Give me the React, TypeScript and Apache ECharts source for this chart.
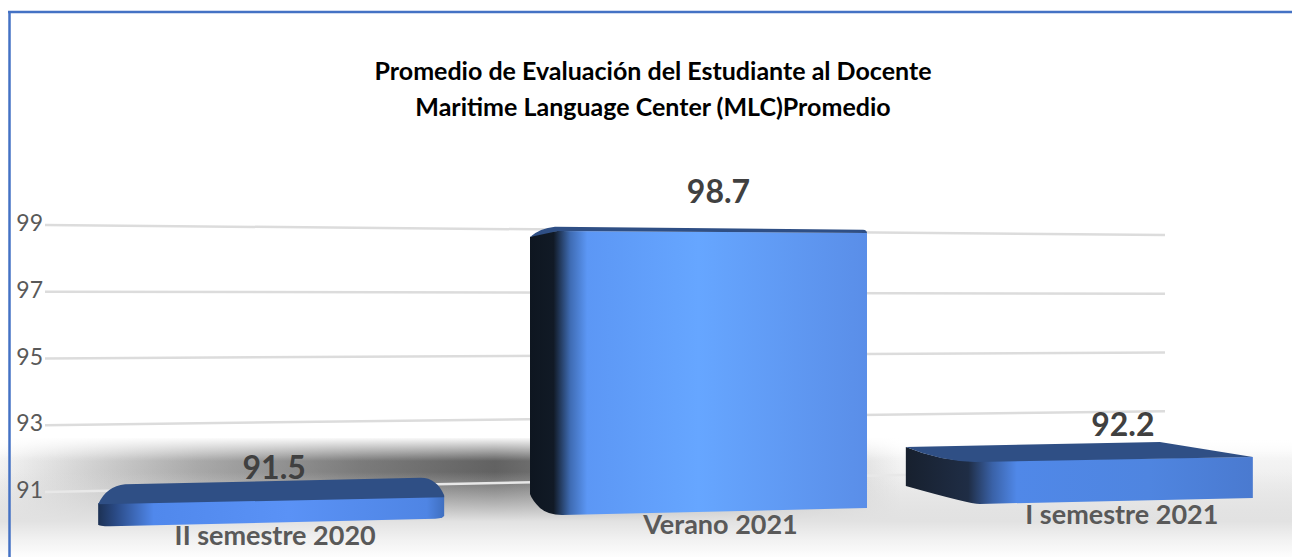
import React, { useEffect, useRef } from "react";
import * as echarts from "echarts";

const titleLines = ["Promedio de Evaluación del Estudiante al Docente", "Maritime Language Center (MLC)Promedio"];
const categories = ["II semestre 2020", "Verano 2021", "I semestre 2021"];
const values = [91.5, 98.7, 92.2];
const gridTicks = [99, 97, 95, 93, 91];

const FONT = "Lato, 'Open Sans', sans-serif";
const { LinearGradient } = echarts.graphic as any;

const grad = (stops: [number, string][]) =>
  new LinearGradient(0, 0, 1, 0, stops.map(([offset, color]) => ({ offset, color })));

// Hand-drawn perspective of each block, relative to its value point on the axes.
const blocks = [
  {
    dx: 0,
    top: "M-173 32Q-165 14 -146 12L149 5.5Q165 5 173 23L173 25L-173 32Z",
    front: "M-173 31L173 24L173 43Q173 46 164 46.5L-161 54Q-173 54 -173 52Z",
    topColor: "#2f4f85",
    fill: [[0, "#1c3154"], [0.05, "#2a4a85"], [0.16, "#5088ec"], [0.55, "#5a92f6"], [0.95, "#4f85e4"], [1, "#3f6fc0"]] as [number, string][],
    valueAt: [3, -6],
    nameAt: [4, 62],
  },
  {
    dx: 22.5,
    top: "M-168 5Q-158 -4 -143 -5.3L165 -2.3Q169 -2 169 1L-140 -1L-168 5Z",
    front: "M-168 5Q-156 -1 -140 -1L169 1L169 276L-136 283Q-150 283 -158 276Q-166 268 -168 262Z",
    topColor: "#2f4f85",
    fill: [[0, "#0e1620"], [0.07, "#111a26"], [0.12, "#3f6cb4"], [0.17, "#5c97f5"], [0.5, "#66a6ff"], [1, "#5a8ee8"]] as [number, string][],
    valueAt: [43, -42],
    nameAt: [45, 291],
  },
  {
    dx: 0,
    top: "M-174 -2L80 -7L173 8L-105 13Q-140 12 -174 -2Z",
    front: "M-174 -2Q-140 12 -105 12L173 8L173 49L-100 55Q-110 55 -174 37Z",
    topColor: "#2f4f85",
    fill: [[0, "#17202e"], [0.18, "#1f2d45"], [0.25, "#3a62a8"], [0.32, "#5088e8"], [0.7, "#4f85e0"], [1, "#4a7ad0"]] as [number, string][],
    valueAt: [43, -25],
    nameAt: [42, 65],
  },
];

export default function App() {
  const ref = useRef<HTMLDivElement>(null);
  useEffect(() => {
    const chart = echarts.init(ref.current!, null, { renderer: "svg" });

    const renderGrid = (params: any, api: any) => {
      const tick = gridTicks[params.dataIndex];
      const y = api.coord([0, tick])[1];
      const cs = params.coordSys;
      return {
        type: "line",
        shape: { x1: cs.x - 24, y1: y + 3, x2: cs.x + cs.width - 117, y2: y * 0.88 + 39.6 },
        style: { stroke: tick === 91 ? "#e8e8e8" : "#dcdcdc", lineWidth: 2.5 },
      };
    };

    const renderBlock = (params: any, api: any) => {
      const i = params.dataIndex;
      const b = blocks[i];
      const p = api.coord([i, values[i]]);
      const x = p[0] + b.dx;
      const y = p[1];
      return {
        type: "group",
        children: [
          { type: "path", x, y, shape: { pathData: b.front }, style: { fill: grad(b.fill) } },
          { type: "path", x, y, shape: { pathData: b.top }, style: { fill: b.topColor } },
          {
            type: "text",
            x: p[0] + b.valueAt[0],
            y: y + b.valueAt[1],
            style: {
              text: values[i].toFixed(1),
              font: `bold 32px ${FONT}`,
              fill: "#404040",
              align: "center",
              verticalAlign: "middle",
            },
          },
          {
            type: "text",
            x: p[0] + b.nameAt[0],
            y: y + b.nameAt[1],
            style: {
              text: categories[i],
              font: `bold 27px ${FONT}`,
              fill: "#595959",
              align: "center",
              verticalAlign: "middle",
            },
          },
        ],
      };
    };

    chart.setOption({
      animation: false,
      backgroundColor: "#ffffff",
      title: {
        text: titleLines.join("\n"),
        left: 648,
        top: 47,
        textAlign: "center",
        textStyle: { fontFamily: FONT, fontWeight: "bold", fontSize: 25, lineHeight: 36, color: "#000000" },
      },
      grid: { left: 69, right: 10, top: 222, bottom: 68 },
      xAxis: { type: "category", data: categories, show: false },
      yAxis: {
        type: "value",
        min: 91,
        max: 99,
        interval: 1,
        axisLine: { show: false },
        axisTick: { show: false },
        splitLine: { show: false },
        axisLabel: {
          margin: 26,
          fontFamily: FONT,
          fontSize: 23,
          color: "#595959",
          formatter: (v: number) => (gridTicks.includes(v) ? String(v) : ""),
        },
      },
      graphic: [
        {
          type: "rect",
          z: -10,
          shape: { x: 0, y: 440, width: 1292, height: 90 },
          style: {
            fill: new LinearGradient(0, 0, 0, 1, [
              { offset: 0, color: "#ffffff" },
              { offset: 0.2, color: "#f4f4f4" },
              { offset: 1, color: "#e2e2e2" },
            ]),
          },
        },
        {
          type: "rect",
          z: -9,
          shape: { x: 0, y: 438, width: 900, height: 84 },
          style: {
            fill: new LinearGradient(0, 0, 1, 0, [
              { offset: 0, color: "rgba(50,50,50,0)" },
              { offset: 0.06, color: "rgba(50,50,50,0.1)" },
              { offset: 0.22, color: "rgba(50,50,50,0.38)" },
              { offset: 0.4, color: "rgba(50,50,50,0.62)" },
              { offset: 0.55, color: "rgba(50,50,50,0.75)" },
              { offset: 0.8, color: "rgba(50,50,50,0.4)" },
              { offset: 0.96, color: "rgba(50,50,50,0.08)" },
              { offset: 1, color: "rgba(50,50,50,0)" },
            ]),
          },
        },
        {
          type: "rect",
          z: -8,
          shape: { x: 0, y: 437, width: 1292, height: 24 },
          style: {
            fill: new LinearGradient(0, 0, 0, 1, [
              { offset: 0, color: "rgba(255,255,255,1)" },
              { offset: 1, color: "rgba(255,255,255,0)" },
            ]),
          },
        },
        {
          type: "rect",
          z: -8,
          shape: { x: 0, y: 472, width: 1292, height: 85 },
          style: {
            fill: new LinearGradient(0, 0, 0, 1, [
              { offset: 0, color: "rgba(226,226,226,0)" },
              { offset: 0.58, color: "rgba(226,226,226,1)" },
              { offset: 0.8, color: "rgb(242,242,242)" },
              { offset: 1, color: "rgb(253,253,253)" },
            ]),
          },
        },
        { type: "line", z: 20, shape: { x1: 8, y1: 12, x2: 1292, y2: 12 }, style: { stroke: "#4472c4", lineWidth: 2.5 } },
        { type: "line", z: 20, shape: { x1: 9.5, y1: 11, x2: 9.5, y2: 557 }, style: { stroke: "#4472c4", lineWidth: 2.5 } },
      ],
      series: [
        {
          type: "custom",
          z: 1,
          silent: true,
          coordinateSystem: "cartesian2d",
          data: gridTicks.map((t) => [0, t]),
          renderItem: renderGrid,
        },
        {
          type: "custom",
          z: 3,
          silent: true,
          coordinateSystem: "cartesian2d",
          data: values.map((v, i) => [i, v]),
          encode: { x: 0, y: 1 },
          renderItem: renderBlock,
        },
      ],
    });
    return () => chart.dispose();
  }, []);
  return <div ref={ref} style={{ position: "absolute", left: 0, top: 0, width: 1292, height: 557 }} />;
}
